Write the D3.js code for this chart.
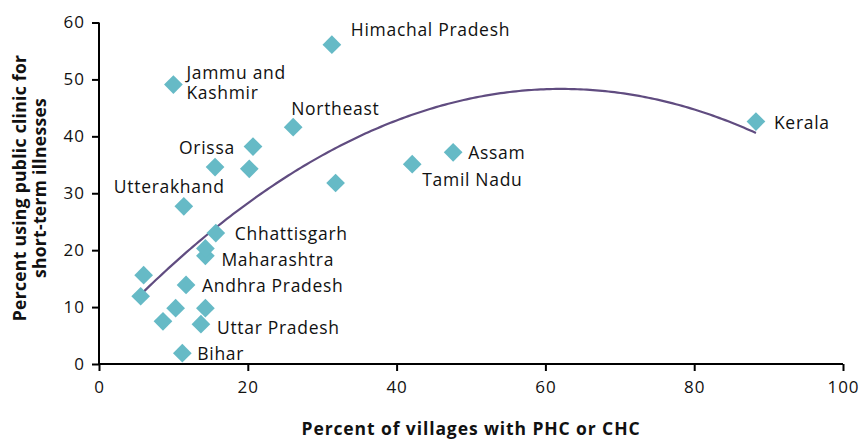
<!DOCTYPE html>
<html><head><meta charset="utf-8">
<script src="https://cdn.jsdelivr.net/npm/d3@7"></script>
<style>
body{margin:0;background:#fff;}
text{font-family:"Open Sans",sans-serif;fill:#111;}
</style></head>
<body><svg id="c" width="864" height="440"></svg>
<script>
// Data (percent of villages with PHC/CHC, percent using public clinic)
const states = ["Himachal Pradesh","Jammu and Kashmir","Northeast","Orissa","","","Utterakhand","Chhattisgarh","Maharashtra","","Andhra Pradesh","","","","","","Uttar Pradesh","Bihar","Tamil Nadu","Assam","","Kerala"];
const xValues = [31.3,10.0,26.1,15.6,20.7,20.2,11.4,15.7,14.3,14.3,11.7,6.0,5.6,10.3,14.3,8.6,13.7,11.2,42.1,47.6,31.8,88.3];
const yValues = [56.1,49.1,41.6,34.6,38.2,34.3,27.7,23.0,19.0,20.3,13.9,15.6,11.9,9.8,9.8,7.5,7.0,1.9,35.1,37.2,31.8,42.6];
const xTicks = [0,20,40,60,80,100];
const yTicks = [0,10,20,30,40,50,60];
const xTitle = "Percent of villages with PHC or CHC";
const yTitleLines = ["Percent using public clinic for","short-term illnesses"];

// label placement (pixel offsets from marker, start-anchored)
const labelOffsets = {
 "Himachal Pradesh":[[19,-9]],
 "Jammu and Kashmir":[[13,-6,"Jammu and"],[13,14,"Kashmir"]],
 "Northeast":[[-2,-12]],
 "Orissa":[[-36,-13]],
 "Utterakhand":[[-70,-13]],
 "Chhattisgarh":[[19,7]],
 "Maharashtra":[[16,10]],
 "Andhra Pradesh":[[16,7]],
 "Uttar Pradesh":[[16,10]],
 "Bihar":[[15,7]],
 "Tamil Nadu":[[10,22]],
 "Assam":[[15,7]],
 "Kerala":[[18,7]]
};

const svg = d3.select("#c");
const m = {l:99, r:21, t:22.5, b:76};
const W = 864, H = 440;
const x = d3.scaleLinear().domain([0,100]).range([m.l, W-m.r]);
const y = d3.scaleLinear().domain([0,60]).range([H-m.b, m.t]);

const axisColor = "#000";
const gx = svg.append("g").attr("transform",`translate(0,${y(0)})`)
  .call(d3.axisBottom(x).tickValues(xTicks).tickSize(7).tickPadding(10).tickSizeOuter(0));
const gy = svg.append("g").attr("transform",`translate(${x(0)},0)`)
  .call(d3.axisLeft(y).tickValues(yTicks).tickSize(7).tickPadding(7).tickSizeOuter(0));
[gx,gy].forEach(g=>{
  g.select(".domain").attr("stroke",axisColor).attr("stroke-width",2);
  g.selectAll(".tick line").attr("stroke",axisColor).attr("stroke-width",2);
  g.selectAll(".tick text").attr("font-family","Open Sans").attr("font-size",17)
    .attr("letter-spacing",1).attr("fill","#111");
});
gx.select(".domain").attr("d",`M${x(0)},0H${x(100)}`);
gy.select(".domain").attr("d",`M0,${y(0)}V${y(60)}`);

// quadratic least-squares trend line
const n = xValues.length;
let S=[0,0,0,0,0], T=[0,0,0];
for(let i=0;i<n;i++){const xi=xValues[i], yi=yValues[i];
  for(let k=0;k<5;k++) S[k]+=Math.pow(xi,k);
  for(let k=0;k<3;k++) T[k]+=yi*Math.pow(xi,k);}
function solve3(A,b){
  const M=A.map((r,i)=>[...r,b[i]]);
  for(let i=0;i<3;i++){let p=i;for(let j=i+1;j<3;j++) if(Math.abs(M[j][i])>Math.abs(M[p][i])) p=j;
    [M[i],M[p]]=[M[p],M[i]];
    for(let j=0;j<3;j++) if(j!==i){const f=M[j][i]/M[i][i]; for(let k=i;k<4;k++) M[j][k]-=f*M[i][k];}}
  return M.map((r,i)=>r[3]/r[i]);
}
const coef = solve3([[S[0],S[1],S[2]],[S[1],S[2],S[3]],[S[2],S[3],S[4]]],T);
const xmin=d3.min(xValues), xmax=d3.max(xValues);
const tx = d3.range(0,201).map(i=>xmin+(xmax-xmin)*i/200);
const line = d3.line().x(d=>x(d)).y(d=>y(coef[0]+coef[1]*d+coef[2]*d*d)).curve(d3.curveLinear);
svg.append("path").datum(tx).attr("d",line).attr("fill","none").attr("stroke","#604c80").attr("stroke-width",2.2);

// markers
const sym = d3.symbol().type(d3.symbolSquare).size(175);
svg.append("g").selectAll("path").data(xValues).join("path")
  .attr("d",sym())
  .attr("transform",(d,i)=>`translate(${x(d)},${y(yValues[i])}) rotate(45)`)
  .attr("fill","#66bac6");

// labels (multi-line labels as one text element with tspans)
const lg = svg.append("g");
states.forEach((s,i)=>{
  if(!s||!labelOffsets[s]) return;
  const t = lg.append("text").attr("font-size",17.5).attr("letter-spacing",0.7);
  labelOffsets[s].forEach(o=>{
    t.append("tspan").attr("x",x(xValues[i])+o[0]).attr("y",y(yValues[i])+o[1]).text(o[2]||s);
  });
});

// titles
svg.append("text").attr("x",471).attr("y",435).attr("text-anchor","middle")
  .attr("font-size",17.5).attr("letter-spacing",0.9).attr("font-weight","bold").text(xTitle);
yTitleLines.forEach((t,i)=>{
  svg.append("text").attr("transform",`translate(${26+i*20},188) rotate(-90)`)
    .attr("text-anchor","middle").attr("font-size",17.5).attr("letter-spacing",0.3).attr("font-weight","bold").text(t);
});
</script></body></html>
